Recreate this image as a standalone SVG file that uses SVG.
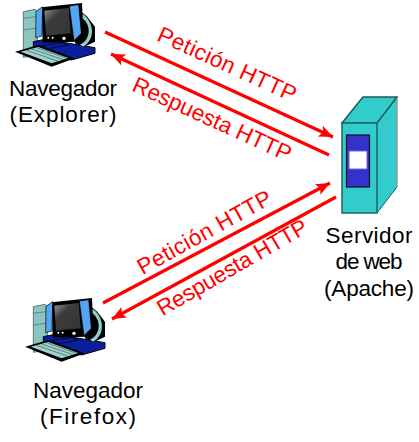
<svg xmlns="http://www.w3.org/2000/svg" width="419" height="442" viewBox="0 0 419 442">
<style>
.k{font-family:"Liberation Sans",Arial,sans-serif;font-size:22.500px;fill:#000;text-anchor:middle}
.r{font-family:"Liberation Sans",Arial,sans-serif;font-size:22.500px;fill:#f00;text-anchor:middle}
.c{fill:none;stroke:#f00;stroke-width:3.2}
</style>
<defs>
<marker id="ah" markerUnits="userSpaceOnUse" markerWidth="16" markerHeight="14" refX="14" refY="6" orient="auto"><path d="M0 0L14 6L0 12L3 6Z" fill="#f00"/></marker>
<linearGradient id="scr" x1="0" y1="0" x2="1" y2="1"><stop offset="0" stop-color="#9a9a9a"/><stop offset=".35" stop-color="#3c3c3c"/><stop offset="1" stop-color="#333"/></linearGradient>
<g id="pc" transform="scale(.3333)">
<path d="M70 35L105 28L112 35V165L70 172Z" fill="#8cc4c0" stroke="#2a4a4a" stroke-width="2"/>
<path d="M70 55L108 50M70 90L108 85" stroke="#3f6f6f" stroke-width="2" fill="none"/>
<path d="M100 125L135 118L285 143V160L215 180L100 150Z" fill="#0a1f9c" stroke="#000" stroke-width="3"/>
<path d="M225 20L262 50L285 80V125L250 142L225 130Z" fill="#000"/>
<path d="M240 50C275 68 275 118 240 134L250 140C288 118 282 65 248 42Z" fill="#8fd0cc"/>
<path d="M125 22L246 9L250 100L226 125L128 128Z" fill="#000"/>
<path d="M108 34L128 20L126 108L107 113Z" fill="#55a5f2" stroke="#000" stroke-width="2"/>
<path d="M208 18L236 14L244 100L222 122Z" fill="#55a5f2" stroke="#000" stroke-width="2"/>
<path d="M133 32L206 24L212 100L138 107Z" fill="url(#scr)"/>
<circle cx="145" cy="113" r="3" fill="#fff"/><circle cx="158" cy="113" r="3" fill="#fff"/><circle cx="192" cy="115" r="5" fill="#fff"/>
<path d="M125 137L185 128L205 135L145 146Z" fill="#0a1f9c" stroke="#000" stroke-width="2"/>
<path d="M45 155L115 135L225 175L155 200Z" fill="#000"/>
<path d="M62 155L115 141L205 174L155 190Z" fill="#9fd2ce"/>
<path d="M80 151L175 184M95 147L190 179M110 143L200 175" stroke="#3a5a5a" stroke-width="2" fill="none"/>
</g>
</defs>
<g id="connectors">
<line class="c" x1="105" y1="32" x2="333" y2="137" marker-end="url(#ah)"/>
<line class="c" x1="329" y1="155" x2="111" y2="54" marker-end="url(#ah)"/>
<line class="c" x1="103" y1="303" x2="330" y2="183" marker-end="url(#ah)"/>
<line class="c" x1="336" y1="197" x2="112" y2="319" marker-end="url(#ah)"/>
</g>
<g id="browser-explorer">
<use href="#pc"/>
<text class="k" x="63" y="96" textLength="108">Navegador</text>
<text class="k" x="63" y="122" textLength="107">(Explorer)</text>
</g>
<g id="browser-firefox">
<use href="#pc" x="10" y="295"/>
<text class="k" x="88" y="398" textLength="110">Navegador</text>
<text class="k" x="88" y="424" textLength="96">(Firefox)</text>
</g>
<g id="server">
<path d="M342 123L363 97H397V187L377 213H342Z" fill="#33cccc"/>
<path d="M342 123L363 97H397L377 123Z" fill="#33cccc" stroke="#1a5a5a" stroke-width="1.500"/>
<path d="M397 97V187" stroke="#999" stroke-width="1.500"/>
<path d="M377 123L397 97M377 213L397 187" stroke="#1a5a5a" stroke-width="1"/>
<rect x="342" y="123" width="35" height="90" fill="#33cccc" stroke="#1f6666" stroke-width="1.500"/>
<rect x="346.500" y="135" width="23" height="52" fill="#3333cc" stroke="#111" stroke-width="1.200"/>
<rect x="349" y="151" width="18" height="18" fill="#fff" stroke="#6666ee"/>
<text class="k" x="369" y="243" textLength="87">Servidor</text>
<text class="k" x="369" y="269" textLength="67">de web</text>
<text class="k" x="369" y="296" textLength="90">(Apache)</text>
</g>
<g id="labels">
<text class="r" transform="translate(224 71) rotate(24.500)" textLength="150">Petición HTTP</text>
<text class="r" transform="translate(209 126) rotate(24.500)" textLength="172">Respuesta HTTP</text>
<text class="r" transform="translate(208 239) rotate(-29)" textLength="150">Petición HTTP</text>
<text class="r" transform="translate(236 274) rotate(-30)" textLength="170">Respuesta HTTP</text>
</g>
</svg>
